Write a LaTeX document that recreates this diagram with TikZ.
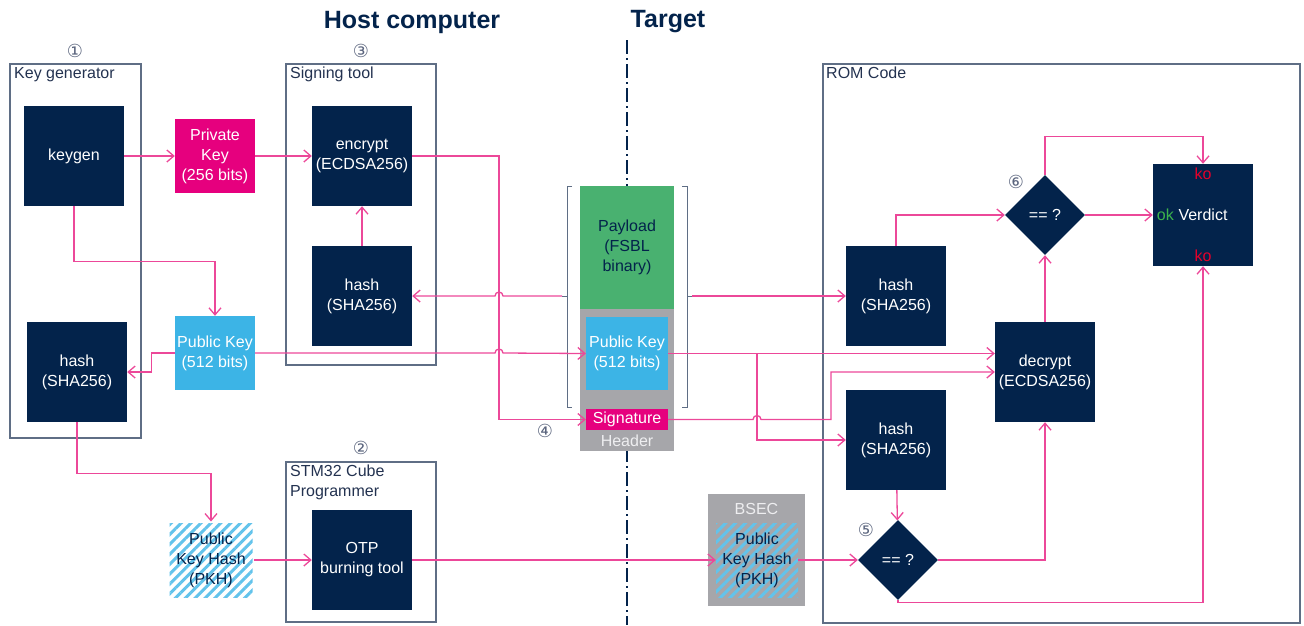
\documentclass[tikz,border=0pt]{standalone}
\usepackage{fontspec}
\setmainfont{Liberation Sans}
\newfontfamily\circfont{DejaVu Sans}
\usetikzlibrary{shapes.geometric,arrows.meta,patterns.meta}
\definecolor{stnavy}{RGB}{3,35,75}
\definecolor{stpink}{RGB}{230,0,126}
\definecolor{stblue}{RGB}{60,180,230}
\definecolor{stgreen}{RGB}{73,177,112}
\definecolor{linkpink}{RGB}{236,72,153}
\definecolor{hdrgray}{RGB}{166,166,170}
\definecolor{hdrtext}{RGB}{238,238,240}
\definecolor{framegray}{RGB}{95,110,133}
\definecolor{lblnavy}{RGB}{35,50,80}
\definecolor{numgray}{RGB}{90,100,125}
\definecolor{kored}{RGB}{228,0,43}
\definecolor{okgreen}{RGB}{60,180,75}

\begin{document}
\begin{tikzpicture}[x=1pt, y=-1pt,
    txt/.style={font=\fontsize{16}{20}\selectfont},
    block/.style={txt, fill=stnavy, text=white, minimum width=100pt, minimum height=100pt, inner sep=0pt, align=center},
    keybox/.style={txt, text=white, minimum width=80pt, minimum height=74pt, inner sep=0pt, align=center},
    hatched/.style={fill=white, pattern={Lines[angle=45,distance=7pt,line width=3pt]}, pattern color=stblue!80, text=stnavy},
    cmp/.style={txt, diamond, fill=stnavy, text=white, minimum width=80pt, minimum height=80pt, inner sep=0pt},
    frame/.style={draw=framegray, line width=1.6pt},
    framelbl/.style={txt, anchor=north west, inner sep=0pt, text=lblnavy, align=left},
    circnum/.style={font=\circfont\fontsize{18}{18}\selectfont, text=numgray, inner sep=0pt},
    title/.style={font=\fontsize{25}{28}\selectfont\bfseries, text=stnavy},
    bracket/.style={draw=framegray, line width=1pt},
    link/.style={draw=linkpink, line width=1.3pt, -{Straight Barb[length=7pt,width=12pt]}},
    verdictlbl/.style={txt, inner sep=0pt}]
\useasboundingbox (0,0) rectangle (1304,625);
% Titles and host / target split
    \node[title] (hosttitle) at (412,22) {Host computer};
    \node[title] (targettitle) at (668,22) {Target};
    \draw[stnavy, line width=1.5pt, dash pattern=on 14pt off 4pt on 2pt off 4pt] (627,40) -- (627,625);
% Frames
    \draw[frame] (10,64) rectangle (141,438);
    \draw[frame] (286,64) rectangle (436,365);
    \draw[frame] (286,462) rectangle (436,622);
    \draw[frame] (823,64) rectangle (1300,623);
    \node[framelbl] (kglbl) at (14,67) {Key generator};
    \node[framelbl] (signlbl) at (290,67) {Signing tool};
    \node[framelbl] (cubelbl) at (290,465) {STM32 Cube\\Programmer};
    \node[framelbl] (romlbl) at (826,67) {ROM Code};
% Step numbers
    \node[circnum] (step1) at (75,51) {①};
    \node[circnum] (step3) at (361,51) {③};
    \node[circnum] (step2) at (361,448) {②};
    \node[circnum] (step4) at (545,431) {④};
    \node[circnum] (step5) at (866,530) {⑤};
    \node[circnum] (step6) at (1016,182) {⑥};
% Host computer blocks
    \node[block] (keygen) at (74,156) {keygen};
    \node[keybox, fill=stpink] (privkey) at (215,156) {Private\\Key\\(256 bits)};
    \node[block] (encrypt) at (362,156) {encrypt\\(ECDSA256)};
    \node[block] (sighash) at (362,296) {hash\\(SHA256)};
    \node[keybox, fill=stblue] (pubkey) at (215,353) {Public Key\\(512 bits)};
    \node[block] (kghash) at (77,372) {hash\\(SHA256)};
    \node[keybox, hatched, minimum width=83pt] (pkh) at (211,560) {Public\\Key Hash\\(PKH)};
    \node[block] (otp) at (362,560) {OTP\\burning tool};
% Signed image
    \node[txt, fill=stgreen, text=stnavy, minimum width=94pt, minimum height=123pt, inner sep=0pt, align=center] (payload) at (627,247.5) {Payload\\(FSBL\\binary)};
    \node[fill=hdrgray, minimum width=94pt, minimum height=142pt, inner sep=0pt] (header) at (627,380) {};
    \node[keybox, fill=stblue, minimum width=82pt, minimum height=73pt] (tpubkey) at (627,353.5) {Public Key\\(512 bits)};
    \node[txt, fill=stpink, text=white, minimum width=82pt, minimum height=21pt, inner sep=0pt] (signature) at (627,419.5) {Signature};
    \node[txt, text=hdrtext, inner sep=0pt] (hdrlbl) at (627,441) {Header};
    \draw[bracket] (572,186) -- (567,186) -- (567,407) -- (572,407);
    \draw[bracket] (682,186) -- (687,186) -- (687,407) -- (682,407);
    \draw[bracket] (567,296) -- (562,296) coordinate (brl);
    \draw[bracket] (687,296) -- (692,296) coordinate (brr);
% BSEC
    \node[fill=hdrgray, minimum width=97pt, minimum height=112pt, inner sep=0pt] (bsec) at (756.5,550) {};
    \node[txt, text=hdrtext, inner sep=0pt] (bseclbl) at (756.5,509) {BSEC};
    \node[keybox, hatched, minimum width=82pt] (bpkh) at (757,560) {Public\\Key Hash\\(PKH)};
% ROM code blocks
    \node[block] (romhash) at (896,296) {hash\\(SHA256)};
    \node[block] (pkhash) at (896,440) {hash\\(SHA256)};
    \node[block] (decrypt) at (1045,372) {decrypt\\(ECDSA256)};
    \node[cmp] (cmppkh) at (898,560) {== ?};
    \node[cmp] (cmpsig) at (1045,215) {== ?};
    \node[block, minimum height=102pt] (verdict) at (1203,215) {Verdict};
    \node[verdictlbl, text=kored] (kotop) at (1203,174) {ko};
    \node[verdictlbl, text=kored] (kobot) at (1203,256) {ko};
    \node[verdictlbl, text=okgreen, anchor=east] (okl) at (1174,215) {ok};
% Crossing points
    \coordinate (jsig) at (499,296);
    \coordinate (jpub) at (499,353);
    \coordinate (jrom) at (757,419.5);
    \coordinate (split) at (757,353);
% Host links
    \draw[link] (keygen) -- (privkey);
    \draw[link] (privkey) -- (encrypt);
    \draw[link] (sighash) -- (encrypt);
    \draw[link] (keygen.south) -- ++(0,55) -| (pubkey.north);
    \draw[link] (pubkey.west) -- ++(-23,0) |- (kghash.east);
    \draw[link] (kghash.south) -- ++(0,51) -| (pkh.north);
    \draw[link] (pkh) -- (otp);
    \draw[link] (otp) -- (bpkh);
    \draw[link] (encrypt.east) -- (encrypt.east -| jsig) |- (signature.west);
    \draw[link] (brl) -- ([xshift=4pt]jsig) arc[start angle=0, end angle=180, radius=4pt] -- (sighash.east);
    \draw[link] (pubkey.east) -- ([xshift=-4pt]jpub) arc[start angle=180, end angle=0, radius=4pt] -- (tpubkey.west);
% ROM code links
    \draw[link] (brr) -- (romhash.west);
    \draw[link] (tpubkey.east) -- (tpubkey.east -| decrypt.west);
    \draw[link] (split) |- (pkhash.west);
    \draw[link] (signature.east) -- ([xshift=-4pt]jrom) arc[start angle=180, end angle=0, radius=4pt] -- (831,419.5) |- (decrypt.west);
    \draw[link] (bpkh) -- (cmppkh);
    \draw[link] (pkhash) -- (cmppkh);
    \draw[link] (cmppkh.east) -| (decrypt.south);
    \draw[link] (cmppkh.south) -- ++(0,2) -| (verdict.south);
    \draw[link] (decrypt) -- (cmpsig);
    \draw[link] (romhash.north) |- (cmpsig.west);
    \draw[link] (cmpsig) -- (verdict);
    \draw[link] (cmpsig.north) -- ++(0,-38) -| (verdict.north);
\end{tikzpicture}
\end{document}
